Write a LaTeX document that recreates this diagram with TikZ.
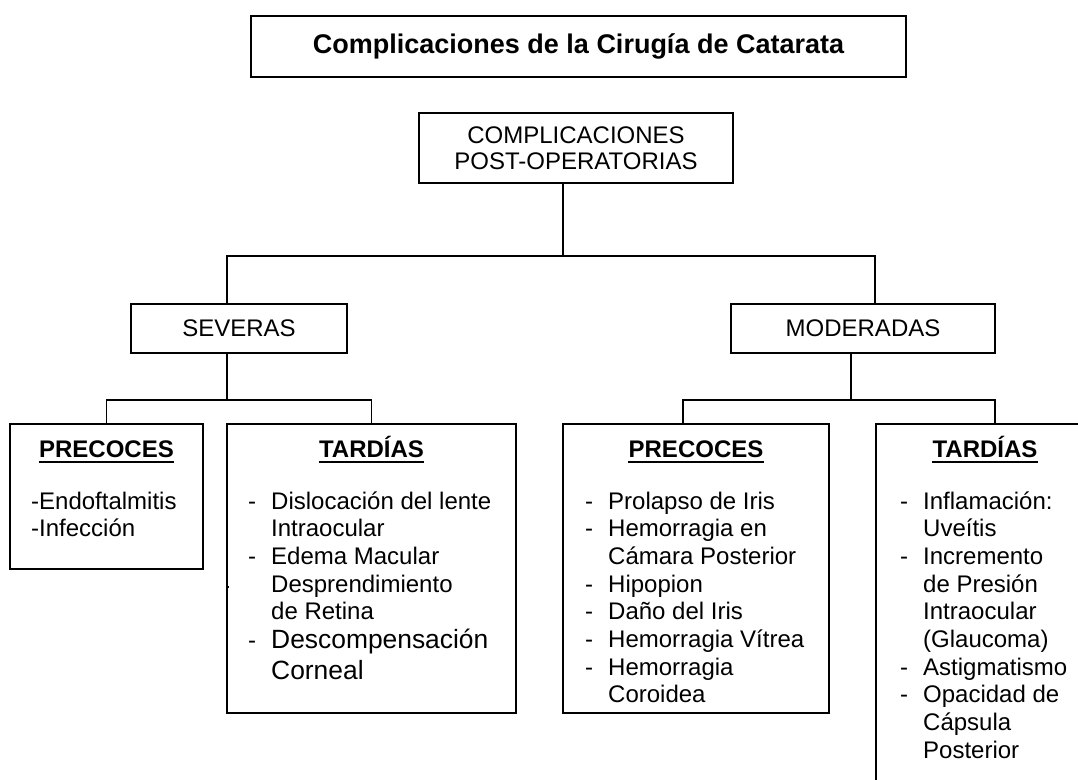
\documentclass[tikz,border=0pt]{standalone}
\usepackage{fontspec}
\setmainfont{Liberation Sans}
\usepackage{array}
\newcommand{\dsh}{\makebox[23pt][l]{-}}
\newcommand{\ind}{\hspace*{23pt}}
\newcommand{\bigitem}{\fontsize{26.4}{31}\selectfont}

\begin{document}
\begin{tikzpicture}[x=1pt, y=-1pt]
        \tikzset{
           titlebox/.style={
                        rectangle,
                        draw=black,
                        line width=1.8pt,
                        inner sep=0pt,
                        font=\fontsize{27}{32}\selectfont\bfseries
                       },
           levelbox/.style={
                        rectangle,
                        draw=black,
                        line width=1.8pt,
                        inner sep=0pt,
                        align=center,
                        font=\fontsize{24}{26.5}\selectfont
                       },
           listbox/.style={
                        rectangle,
                        draw=black,
                        line width=1.8pt,
                        inner sep=0pt
                       },
           head/.style={
                        anchor=base,
                        inner sep=0pt,
                        font=\fontsize{24}{27.7}\selectfont\bfseries
                       },
           items/.style={
                        anchor=base west,
                        inner sep=0pt,
                        font=\fontsize{24}{27.7}\selectfont
                       },
           link/.style={
                        draw=black,
                        line width=1.3pt
                       },
                 };
        \fill[white] (0,0) rectangle (1078,779);
        \useasboundingbox (0,0) rectangle (1078,779);
        \clip (0,0) rectangle (1078,779);
    %--------------------
        \node[titlebox, minimum width=655pt, minimum height=61pt] (title) at (578.5,46.5) {Complicaciones de la Cirugía de Catarata};

        \node[levelbox, minimum width=314pt, minimum height=70pt] (post) at (576,148) {COMPLICACIONES\\POST-OPERATORIAS};

        \node[levelbox, minimum width=216pt, minimum height=49pt] (sev) at (239,328.5) {SEVERAS};
        \node[levelbox, minimum width=264pt, minimum height=49pt] (mod) at (863,328.5) {MODERADAS};

        \node[listbox, minimum width=193pt, minimum height=145pt] (precS) at (106.5,496.5) {};
        \node[listbox, minimum width=289pt, minimum height=289pt] (tardS) at (371.5,568.5) {};
        \node[listbox, minimum width=266pt, minimum height=289pt] (precM) at (696,568.5)   {};
        \node[listbox, minimum width=218pt, minimum height=396pt] (tardM) at (985,622)     {};
    %--------------------
        \node[head] (precSh) at (106.5,457) {PRECOCES};
        \node[head] (tardSh) at (371.5,457) {TARDÍAS};
        \node[head] (precMh) at (696,457)   {PRECOCES};
        \node[head] (tardMh) at (985,457)   {TARDÍAS};

        \foreach \h in {precSh,tardSh,precMh,tardMh}
            \draw[line width=2pt] ([yshift=-5pt]\h.base west) -- ([yshift=-5pt]\h.base east);

        \node[items] (precSl) at (31,509) {\begin{tabular}[t]{@{}l@{}}
            -Endoftalmitis\\
            -Infección
            \end{tabular}};
        \node[items] (tardSl) at (248,509) {\begin{tabular}[t]{@{}l@{}}
            \dsh Dislocación del lente\\
            \ind Intraocular\\
            \dsh Edema Macular\\
            \ind Desprendimiento\\
            \ind de Retina\\[1pt]
            \dsh{\bigitem Descompensación}\\[3.3pt]
            \ind{\bigitem Corneal}
            \end{tabular}};
        \node[items] (precMl) at (585,509) {\begin{tabular}[t]{@{}l@{}}
            \dsh Prolapso de Iris\\
            \dsh Hemorragia en\\
            \ind Cámara Posterior\\
            \dsh Hipopion\\
            \dsh Daño del Iris\\
            \dsh Hemorragia Vítrea\\
            \dsh Hemorragia\\
            \ind Coroidea
            \end{tabular}};
        \node[items] (tardMl) at (900,509) {\begin{tabular}[t]{@{}l@{}}
            \dsh Inflamación:\\
            \ind Uveítis\\
            \dsh Incremento\\
            \ind de Presión\\
            \ind Intraocular\\
            \ind (Glaucoma)\\
            \dsh Astigmatismo\\
            \dsh Opacidad de\\
            \ind Cápsula\\
            \ind Posterior
            \end{tabular}};
    %--------------------
        \coordinate (jTop) at (563,256);
        \coordinate (jSev) at (227,400);
        \coordinate (jMod) at (851,400);

        \draw[link] (post.south -| jTop) -- (jTop);
        \draw[link] (sev.north -| jSev) |- (jTop) -| ([xshift=12pt]mod.north);

        \draw[link] (sev.south -| jSev) -- (jSev);
        \draw[link] (precS.north) |- (jSev) -| (tardS.north);

        \draw[link] (mod.south -| jMod) -- (jMod);
        \draw[link] ([xshift=-13pt]precM.north) |- (jMod) -| ([xshift=10pt]tardM.north);

        \draw[link] ([yshift=-18.5pt]tardS.west) -- ++(3,0);
\end{tikzpicture}
\end{document}
